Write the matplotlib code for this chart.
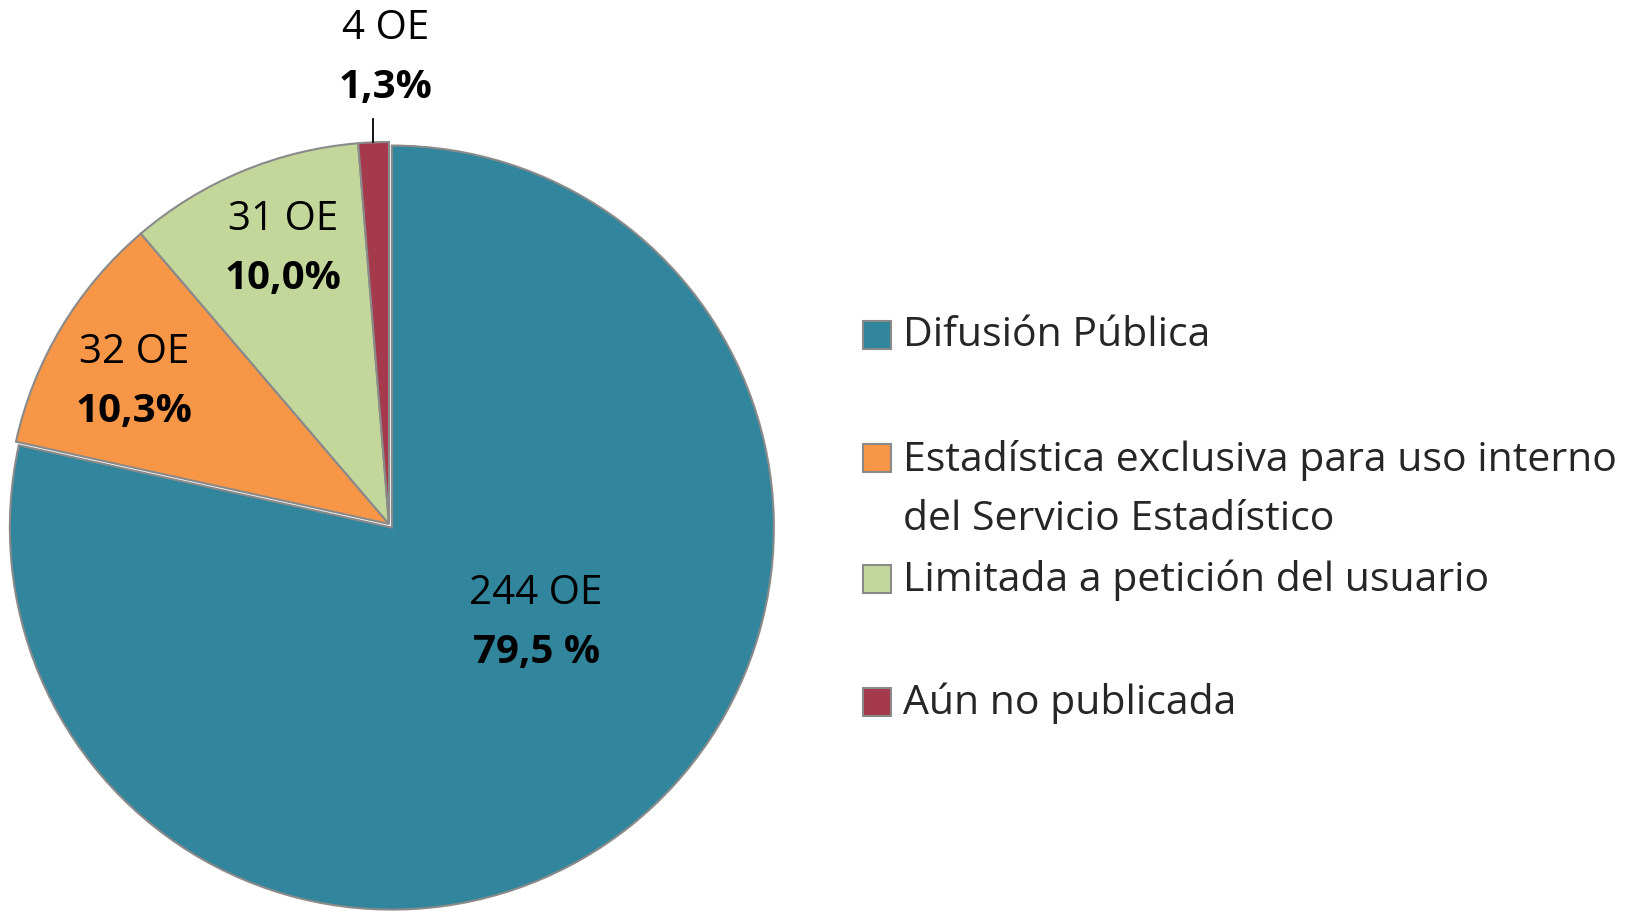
import matplotlib.pyplot as plt
from matplotlib.patches import Rectangle

plt.rcParams['font.family'] = ['Open Sans', 'DejaVu Sans']

categories = ["Difusión Pública",
              "Estadística exclusiva para uso interno\ndel Servicio Estadístico",
              "Limitada a petición del usuario",
              "Aún no publicada"]
counts = [244, 32, 31, 4]
count_labels = ["244 OE", "32 OE", "31 OE", "4 OE"]
pct_labels = ["79,5 %", "10,3%", "10,0%", "1,3%"]
colors = ["#31859C", "#F79646", "#C4D79B", "#A43A4C"]

W, H = 1646, 912
fig = plt.figure(figsize=(W / 100, H / 100), dpi=100)

# pie centre / radius in pixels (from top-left)
cx, cy, r = 389, 525, 382
ax = fig.add_axes([(cx - r) / W, (H - cy - r) / H, 2 * r / W, 2 * r / H])
ax.pie(counts, colors=colors, startangle=90, counterclock=False,
       explode=[0.012, 0, 0, 0], radius=1,
       wedgeprops=dict(edgecolor="#8a8a8a", linewidth=1.5))
ax.set_xlim(-1, 1)
ax.set_ylim(-1, 1)
ax.set_aspect("equal")
ax.axis("off")

fs = 29
# label positions in pie units
label_pos = [(0.385, -0.180), (-0.667, 0.452), (-0.277, 0.800), (-0.010, 1.300)]
gap = 0.155
for (x, y), c, p in zip(label_pos, count_labels, pct_labels):
    ax.text(x, y, c, ha="center", va="center", fontsize=fs, color="#000000")
    ax.text(x, y - gap, p, ha="center", va="center", fontsize=fs,
            fontweight="bold", color="#000000")
# leader line for the small slice
ax.plot([-0.042, -0.042], [1.06, 1.0], color="black", lw=1.3, clip_on=False)

# legend drawn by hand (Excel-style uneven spacing)
leg_y = [336, 459, 580, 703]
line_off = [0, 31, 0, 0]
for yy, off, lab, col in zip(leg_y, line_off, categories, colors):
    fig.patches.append(Rectangle(((863) / W, 1 - (yy + 14) / H), 28 / W, 28 / H,
                                 facecolor=col, edgecolor="#8a8a8a", lw=1.5,
                                 transform=fig.transFigure))
    fig.text(903 / W, 1 - (yy + off) / H, lab, ha="left", va="center",
             fontsize=29.5, color="#262626", linespacing=1.62)

fig.savefig("out.png", dpi=100)
